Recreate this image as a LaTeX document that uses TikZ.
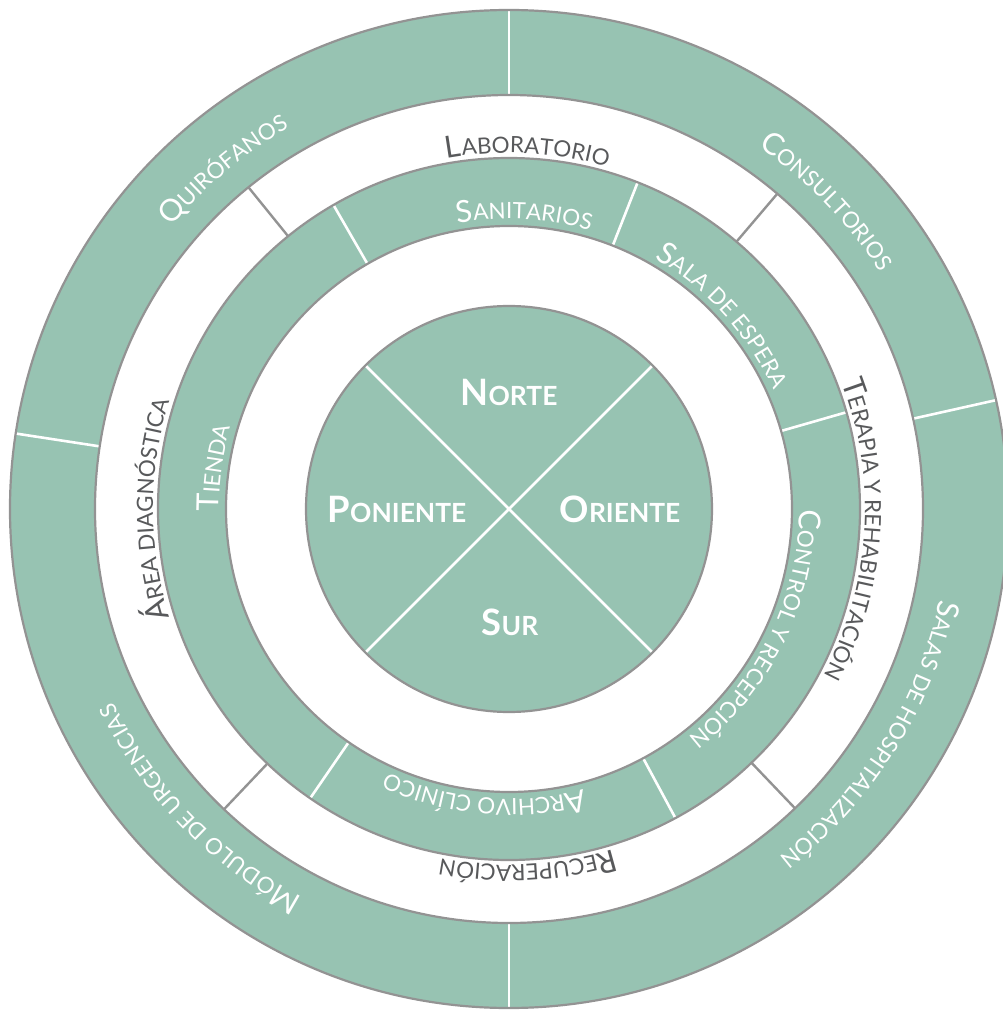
\documentclass[tikz,border=0pt]{standalone}
\usepackage{fontspec}
\setmainfont{Lato}
\usetikzlibrary{decorations.text}
\definecolor{wardgreen}{HTML}{97C3B2}
\definecolor{wardedge}{HTML}{939393}
\definecolor{wardtext}{HTML}{58595B}
\newcommand\capbig{\fontsize{30.5}{30}\selectfont}
\newcommand\capsmall{\fontsize{22.5}{22}\selectfont}
\newcommand\boldbig{\fontsize{36.5}{36}\selectfont}
\newcommand\boldsmall{\fontsize{26.5}{26}\selectfont}

\begin{document}
\begin{tikzpicture}[
  x=1bp,
  y=1bp,
  line join=round,
  ring/.style={fill=wardgreen,even odd rule},
  edge/.style={draw=wardedge,line width=2.2bp},
  cut/.style={draw=white,line width=2.6bp},
  tick/.style={draw=wardedge,line width=2.4bp},
  greentext/.style={decorate,decoration={text along path,text align=center,text color=white,text={#1}}},
  whitetext/.style={decorate,decoration={text along path,text align=center,text color=wardtext,text={#1}}},
  zone/.style={font=\bfseries,text=white,inner sep=0pt}
]
  \useasboundingbox (-509,-501) rectangle (494,509);

  % Green bands and the central disc.
  \path[ring] (0,0) circle[radius=499] (0,0) circle[radius=414];
  \path[ring] (0,0) circle[radius=351] (0,0) circle[radius=283];
  \fill[wardgreen] (0,0) circle[radius=203];

  % White cuts between the blocks of each green band.
  \foreach \a in {90,12.6,270,171.3} {
    \draw[cut] (\a:414) -- (\a:499);
  }
  \foreach \a in {120,68.5,16,-61.7,235.5} {
    \draw[cut] (\a:283) -- (\a:351);
  }
  \foreach \a in {45,135} {
    \draw[cut] (\a:203) -- (\a+180:203);
  }

  % Grey rims, then the grey cuts of the white band.
  \foreach \r in {499,414,351,283,203} {
    \draw[edge] (0,0) circle[radius=\r];
  }
  \foreach \a in {129,49.6,-46.3,226.5} {
    \draw[tick] (\a:351) -- (\a:414);
  }

  % Outer band.
  \path[greentext={|\capbig|Q|\capsmall|UIRÓFANOS}] (220:440) arc[start angle=220,end angle=40,radius=440];
  \path[greentext={|\capbig|C|\capsmall|ONSULTORIOS}] (134:440) arc[start angle=134,end angle=-46,radius=440];
  \path[greentext={|\capbig|S|\capsmall|ALAS DE HOSPITALIZACIÓN}] (58:440) arc[start angle=58,end angle=-122,radius=440];
  \path[greentext={|\capbig|M|\capsmall|ÓDULO DE URGENCIAS}] (314:440) arc[start angle=314,end angle=134,radius=440];

  % White band.
  \path[whitetext={|\capbig|L|\capsmall|ABORATORIO}] (177:356) arc[start angle=177,end angle=-3,radius=356];
  \path[whitetext={|\capbig|T|\capsmall|ERAPIA Y REHABILITACIÓN}] (86.5:356) arc[start angle=86.5,end angle=-93.5,radius=356];
  \path[whitetext={|\capbig|R|\capsmall|ECUPERACIÓN}] (3:356) arc[start angle=3,end angle=-177,radius=356];
  \path[whitetext={|\capbig|Á|\capsmall|REA DIAGNÓSTICA}] (270:356) arc[start angle=270,end angle=90,radius=356];

  % Inner band.
  \path[greentext={|\capbig|S|\capsmall|ANITARIOS}] (177:290) arc[start angle=177,end angle=-3,radius=290];
  \path[greentext={|\capbig|S|\capsmall|ALA DE ESPERA}] (132:290) arc[start angle=132,end angle=-48,radius=290];
  \path[greentext={|\capbig|C|\capsmall|ONTROL Y RECEPCIÓN}] (64:290) arc[start angle=64,end angle=-116,radius=290];
  \path[greentext={|\capbig|A|\capsmall|RCHIVO CLÍNICO}] (-5:290) arc[start angle=-5,end angle=-185,radius=290];
  \path[greentext={|\capbig|T|\capsmall|IENDA}] (262:290) arc[start angle=262,end angle=82,radius=290];

  % Cardinal zones.
  \node[zone] (norte) at (0,117) {\boldbig N\boldsmall ORTE};
  \node[zone] (oriente) at (111,0) {\boldbig O\boldsmall RIENTE};
  \node[zone] (sur) at (1,-113) {\boldbig S\boldsmall UR};
  \node[zone] (poniente) at (-112,0) {\boldbig P\boldsmall ONIENTE};
\end{tikzpicture}
\end{document}
